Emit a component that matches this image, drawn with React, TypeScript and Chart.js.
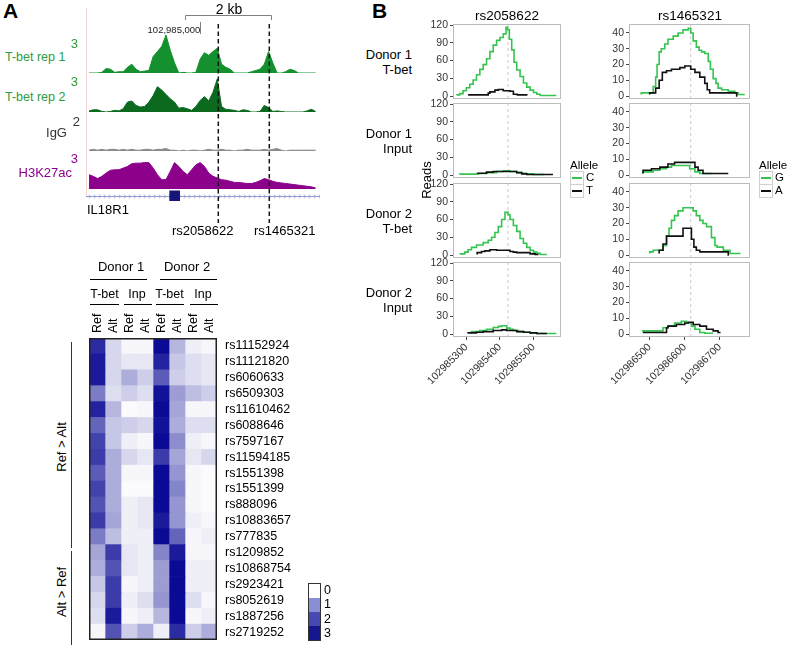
import React, { useEffect, useRef } from "react";
import { Chart, registerables } from "chart.js";
Chart.register(...registerables);

const FONT = "'Liberation Sans', Arial, Helvetica, sans-serif";
Chart.defaults.font.family = FONT;

// ---------------- Panel A : genome browser ----------------
const TRACK_POS = [
  102982400, 102982500, 102982600, 102982700, 102982800, 102982900, 102983000, 102983100, 102983200, 102983300,
  102983400, 102983500, 102983600, 102983700, 102983800, 102983900, 102984000, 102984100, 102984200, 102984300,
  102984400, 102984500, 102984600, 102984700, 102984800, 102984900, 102985000, 102985100, 102985200, 102985300,
  102985400, 102985500, 102985600, 102985700, 102985800, 102985900, 102986000, 102986100, 102986200, 102986300,
  102986400, 102986500, 102986600, 102986700, 102986800, 102986900, 102987000, 102987100, 102987200, 102987300,
  102987400, 102987500, 102987600, 102987700,
];
const TBET_REP1 = [
  0, 0, 0, 0.05, 0.35, 0.3, 0.05, 0.1, 0.1, 0.45, 0.7, 0.3, 0.1, 0.15, 0.2, 1.3, 1.7, 2.1, 3.0, 1.8,
  0.8, 0, 0.05, 0, 0, 0.05, 1.1, 1.6, 1.4, 1.7, 1.95, 0.7, 0.45, 0.3, 0, 0, 0, 0, 0.1, 0.2,
  0.3, 0.7, 1.7, 0.8, 0, 0, 0.1, 0.3, 0.2, 0, 0, 0, 0, 0,
];
const TBET_REP2 = [
  0.1, 0.2, 0.2, 0.05, 0, 0.05, 0.15, 0.1, 0.3, 0.9, 1.0, 0.6, 0.45, 0.5, 0.9, 1.5, 2.3, 2.0, 1.6, 1.2,
  0.9, 0.35, 0.4, 0.3, 0.15, 0.5, 1.05, 1.4, 1.0, 1.8, 3.0, 0.5, 0.25, 0.2, 0.15, 0.05, 0.2, 0.15, 0, 0,
  0.05, 0.6, 0.4, 0.05, 0.1, 0.05, 0, 0, 0, 0, 0, 0.1, 0.25, 0.05,
];
const IGG = [
  0.05, 0.1, 0.05, 0.1, 0.05, 0.1, 0.1, 0.05, 0.1, 0.05, 0.1, 0.05, 0.05, 0.1, 0.1, 0.05, 0.1, 0.1, 0.15, 0.05,
  0.05, 0, 0.05, 0, 0.05, 0.05, 0, 0.05, 0.1, 0.05, 0.05, 0.1, 0.05, 0.05, 0, 0.05, 0.05, 0.1, 0.05, 0.05,
  0.05, 0.1, 0.05, 0.1, 0.15, 0.05, 0, 0.05, 0.05, 0.05, 0.05, 0.05, 0.05, 0.05,
];
const H3K27AC = [
  1.3, 1.15, 0.95, 1.15, 1.45, 1.7, 1.75, 1.75, 1.9, 2.05, 2.3, 2.35, 2.35, 2.4, 2.4, 1.9, 1.3, 0.85, 0.85, 1.6,
  2.4, 2.05, 1.6, 1.3, 1.75, 2.2, 2.4, 2.05, 1.45, 1.15, 1.0, 0.85, 0.8, 0.7, 0.6, 0.6, 0.55, 0.5, 0.5, 0.6,
  0.75, 0.95, 0.85, 0.7, 0.6, 0.55, 0.5, 0.45, 0.4, 0.35, 0.3, 0.25, 0.2, 0.1,
];
const TRACK_MAX = [3, 3, 2, 3];
const BROWSER_RANGE = [102982329, 102987803];
const SNP_POS = [102985424, 102986617];
const SNP_NAMES = ["rs2058622", "rs1465321"];
const SCALE_BAR = [102984651, 102986651];
const COORD_TICK = 102985000;
const IL18R1_EXON = [102984278, 102984528];

// ---------------- Panel A : heatmap ----------------
const HM_ROWS = [
  "rs11152924", "rs11121820", "rs6060633", "rs6509303", "rs11610462", "rs6088646", "rs7597167",
  "rs11594185", "rs1551398", "rs1551399", "rs888096", "rs10883657", "rs777835", "rs1209852",
  "rs10868754", "rs2923421", "rs8052619", "rs1887256", "rs2719252",
];
const D1_TBET_REF = [2.6, 2.8, 2.8, 1.6, 2.7, 1.9, 2.3, 2.4, 2.0, 2.3, 2.1, 2.4, 1.6, 1.1, 1.0, 0.7, 0.5, 0.4, 0.1];
const D1_TBET_ALT = [0.5, 0.5, 0.5, 0.4, 0.9, 0.7, 0.7, 1.0, 1.0, 1.0, 1.0, 1.1, 0.8, 2.4, 2.1, 2.4, 2.4, 2.8, 2.1];
const D1_INP_REF = [0.1, 0.3, 1.0, 0.6, 0.05, 0.6, 0.2, 0.5, 0.1, 0.05, 0.2, 0.2, 0.2, 0.3, 0.3, 0.1, 0.2, 0.1, 0.6];
const D1_INP_ALT = [0.1, 0.3, 0.6, 0.4, 0.1, 0.5, 0.1, 0.3, 0.1, 0.05, 0.3, 0.3, 0.2, 0.2, 0.2, 0.2, 0.4, 0.2, 1.0];
const D2_TBET_REF = [3.0, 2.7, 2.0, 2.9, 3.0, 2.9, 3.0, 2.4, 3.0, 3.0, 3.0, 2.8, 3.0, 1.5, 1.2, 1.2, 1.3, 0.9, 0.2];
const D2_TBET_ALT = [0.9, 0.7, 0.6, 1.2, 1.1, 1.0, 1.4, 1.1, 1.3, 1.5, 1.3, 1.3, 1.9, 2.8, 3.0, 3.0, 3.0, 3.0, 2.6];
const D2_INP_REF = [0.2, 0.4, 0.4, 0.8, 0.1, 0.4, 0.2, 0.3, 0.1, 0.1, 0.1, 0.2, 0.1, 0.1, 0.2, 0.2, 0.4, 0.1, 0.6];
const D2_INP_ALT = [0.1, 0.3, 0.3, 0.6, 0.1, 0.4, 0.1, 0.5, 0.05, 0.05, 0.05, 0.1, 0.2, 0.1, 0.2, 0.2, 0.1, 0.2, 1.0];
const HM_COL_LABELS = ["Ref", "Alt", "Ref", "Alt", "Ref", "Alt", "Ref", "Alt"];
const HM_LEGEND_LABELS = ["0", "1", "2", "3"];

// ---------------- Panel B : allele-specific reads ----------------
const RS2058622_X = [102985260, 102985582];
const RS2058622_TICKS = [102985300, 102985400, 102985500];
const RS1465321_X = [102986441, 102986786];
const RS1465321_TICKS = [102986500, 102986600, 102986700];
const RS2058622_Y = [-5, 121.7];
const RS2058622_YTICKS = [0, 30, 60, 90, 120];
const RS1465321_Y = [-1.9, 45.7];
const RS1465321_YTICKS = [0, 10, 20, 30, 40];

const RS2058622_D1_TBET_C = [[102985272,1],[102985280,2],[102985290,4],[102985300,9],[102985310,14],[102985320,20],[102985330,27],[102985340,36],[102985350,45],[102985360,53],[102985370,63],[102985380,75],[102985390,86],[102985400,94],[102985410,99],[102985418,105],[102985423,116],[102985428,112],[102985435,96],[102985442,78],[102985450,57],[102985460,44],[102985470,33],[102985480,22],[102985490,15],[102985500,10],[102985510,6],[102985520,3],[102985530,1],[102985568,1]];
const RS2058622_D1_TBET_T = [[102985305,2],[102985365,2],[102985370,5],[102985385,7],[102985395,10],[102985410,11],[102985430,9],[102985440,8],[102985452,3],[102985482,2]];
const RS2058622_D1_INPUT_C = [[102985280,1],[102985330,1.5],[102985360,2.5],[102985390,4],[102985410,6],[102985430,7],[102985450,6],[102985465,4],[102985480,3],[102985500,2],[102985520,1],[102985530,1]];
const RS2058622_D1_INPUT_T = [[102985335,1],[102985360,3],[102985380,5],[102985410,6],[102985450,6],[102985465,4],[102985480,2],[102985500,1],[102985558,1]];
const RS2058622_D2_TBET_C = [[102985282,1],[102985295,2],[102985305,5],[102985315,9],[102985330,13],[102985350,17],[102985365,21],[102985375,25],[102985385,30],[102985395,38],[102985405,48],[102985415,60],[102985424,72],[102985430,68],[102985440,60],[102985450,50],[102985460,40],[102985470,28],[102985480,20],[102985490,13],[102985500,8],[102985510,5],[102985520,3],[102985530,1],[102985540,1]];
const RS2058622_D2_TBET_T = [[102985332,1],[102985345,4],[102985355,6],[102985370,7],[102985390,9],[102985430,8],[102985440,6],[102985450,5],[102985490,4],[102985505,2],[102985515,1]];
const RS2058622_D2_INPUT_C = [[102985315,3],[102985340,4],[102985360,6],[102985380,8],[102985395,11],[102985405,13],[102985420,14],[102985430,10],[102985440,8],[102985455,6],[102985470,4],[102985490,3],[102985510,2],[102985530,1],[102985568,1]];
const RS2058622_D2_INPUT_T = [[102985305,1],[102985330,2],[102985350,3],[102985380,4],[102985405,6],[102985420,7],[102985450,6],[102985470,4],[102985490,3],[102985510,2],[102985540,1]];

const RS1465321_D1_TBET_G = [[102986476,1],[102986510,2],[102986517,6],[102986521,12],[102986527,20],[102986533,28],[102986543,30],[102986552,33],[102986567,36],[102986581,38],[102986595,40],[102986610,42],[102986617,43],[102986624,40],[102986633,35],[102986641,31],[102986648,29],[102986657,28],[102986667,27],[102986673,22],[102986681,17],[102986689,11],[102986695,8],[102986705,5],[102986724,4],[102986743,3],[102986752,2],[102986771,1]];
const RS1465321_D1_TBET_A = [[102986500,1],[102986517,2],[102986527,5],[102986536,10],[102986548,15],[102986562,16],[102986586,17],[102986600,18],[102986617,19],[102986629,17],[102986643,15],[102986657,12],[102986664,8],[102986671,4],[102986686,2],[102986748,2],[102986750,0]];
const RS1465321_D1_INPUT_G = [[102986481,1],[102986510,2],[102986529,3],[102986548,4],[102986562,5],[102986576,6],[102986614,6],[102986629,4],[102986643,2],[102986662,1],[102986676,1]];
const RS1465321_D1_INPUT_A = [[102986481,1],[102986505,3],[102986529,4],[102986552,5],[102986571,7],[102986586,8],[102986629,8],[102986638,5],[102986652,3],[102986667,1],[102986724,1]];
const RS1465321_D2_TBET_G = [[102986500,1],[102986510,2],[102986538,3],[102986548,6],[102986555,12],[102986562,17],[102986571,22],[102986581,25],[102986595,28],[102986610,30],[102986624,30],[102986633,28],[102986643,25],[102986652,22],[102986662,20],[102986676,18],[102986686,11],[102986692,6],[102986710,5],[102986729,3],[102986748,1],[102986759,1]];
const RS1465321_D2_TBET_A = [[102986527,1],[102986538,3],[102986548,7],[102986557,12],[102986595,12],[102986600,17],[102986619,17],[102986626,10],[102986633,5],[102986643,3],[102986657,2],[102986724,2],[102986726,0]];
const RS1465321_D2_INPUT_G = [[102986481,1],[102986538,2],[102986552,4],[102986571,5],[102986590,7],[102986605,8],[102986619,7],[102986629,5],[102986643,3],[102986657,1],[102986681,0.5]];
const RS1465321_D2_INPUT_A = [[102986481,1],[102986548,1],[102986552,4],[102986576,5],[102986600,6],[102986610,7],[102986624,7.5],[102986643,6],[102986662,5],[102986681,3],[102986695,2],[102986702,1]];

const ROW_LABELS = ["Donor 1\nT-bet", "Donor 1\nInput", "Donor 2\nT-bet", "Donor 2\nInput"];

// ---------------- styles ----------------
const GREEN_LINE = "#35c44f";
const HEAT_END = [10, 10, 148];
function heatColor(v: number) {
  const t = Math.max(0, Math.min(1, v / 3));
  const r = Math.round(255 + (HEAT_END[0] - 255) * t);
  const g = Math.round(255 + (HEAT_END[1] - 255) * t);
  const b = Math.round(255 + (HEAT_END[2] - 255) * t);
  return `rgb(${r},${g},${b})`;
}

function ChartCanvas({ left, top, width, height, config, z = 0 }: any) {
  const ref = useRef<HTMLCanvasElement>(null);
  useEffect(() => {
    const chart = new Chart(ref.current as HTMLCanvasElement, config);
    return () => chart.destroy();
  }, []);
  return (
    <canvas
      ref={ref}
      width={width}
      height={height}
      style={{ position: "absolute", left, top, width, height, zIndex: z, display: "block" }}
    />
  );
}

function Txt({ x, y, s = 13, c = "#000", w = 400, a = "middle", r = 0, lh = 1.15, children }: any) {
  const tx = a === "start" ? "0" : a === "end" ? "-100%" : "-50%";
  return (
    <div
      style={{
        position: "absolute",
        left: x,
        top: y,
        transform: `translate(${tx}, -50%)${r ? ` rotate(${r}deg)` : ""}`,
        fontSize: s,
        color: c,
        fontWeight: w,
        whiteSpace: "pre",
        lineHeight: lh,
        textAlign: a === "end" ? "right" : a === "start" ? "left" : "center",
        zIndex: 5,
      }}
    >
      {children}
    </div>
  );
}

function UpTxt({ x, y, s = 12.5, children }: any) {
  return (
    <div
      style={{
        position: "absolute",
        left: x,
        top: y,
        transformOrigin: "0 0",
        transform: "rotate(-90deg) translate(0, -50%)",
        fontSize: s,
        lineHeight: 1,
        whiteSpace: "pre",
        zIndex: 5,
      }}
    >
      {children}
    </div>
  );
}

function HLine({ x1, x2, y, c = "#000", w = 1 }: any) {
  return <div style={{ position: "absolute", left: x1, top: y, width: x2 - x1, height: w, background: c, zIndex: 5 }} />;
}
function VLine({ x, y1, y2, c = "#000", w = 1 }: any) {
  return <div style={{ position: "absolute", left: x, top: y1, width: w, height: y2 - y1, background: c, zIndex: 5 }} />;
}

const baseOpts = {
  responsive: false,
  animation: false,
  events: [],
  plugins: { legend: { display: false }, tooltip: { enabled: false } },
};

function trackConfig(values: number[], max: number, color: string) {
  return {
    type: "line",
    data: {
      datasets: [
        {
          data: TRACK_POS.map((x, i) => ({ x, y: values[i] })),
          borderColor: color,
          backgroundColor: color,
          borderWidth: 1,
          fill: "origin",
          pointRadius: 0,
          tension: 0,
        },
      ],
    },
    options: {
      ...baseOpts,
      layout: { padding: { bottom: 1 } },
      scales: {
        x: { type: "linear", min: BROWSER_RANGE[0], max: BROWSER_RANGE[1], display: false },
        y: { min: 0, max, display: false },
      },
    },
  };
}

const browserOverlay = {
  id: "browserOverlay",
  afterDraw(chart: any) {
    const ctx = chart.ctx;
    const xs = chart.scales.x;
    const px = (v: number) => xs.getPixelForValue(v);
    ctx.save();
    ctx.strokeStyle = "#f2d2d2";
    ctx.lineWidth = 1;
    ctx.beginPath();
    ctx.moveTo(0.5, 8);
    ctx.lineTo(0.5, 196);
    ctx.stroke();
    ctx.strokeStyle = "#808080";
    const a = Math.round(px(SCALE_BAR[0])) + 0.5;
    const b = Math.round(px(SCALE_BAR[1])) + 0.5;
    ctx.beginPath();
    ctx.moveTo(a, 20);
    ctx.lineTo(a, 15.5);
    ctx.lineTo(b, 15.5);
    ctx.lineTo(b, 20);
    ctx.stroke();
    const c = Math.round(px(COORD_TICK)) + 0.5;
    ctx.beginPath();
    ctx.moveTo(c, 22);
    ctx.lineTo(c, 34);
    ctx.stroke();
    ctx.strokeStyle = "#8f9bd0";
    ctx.beginPath();
    ctx.moveTo(0, 196.5);
    ctx.lineTo(chart.width, 196.5);
    ctx.stroke();
    ctx.lineWidth = 0.8;
    for (let x = 3; x < chart.width; x += 5) {
      ctx.beginPath();
      ctx.moveTo(x, 194.5);
      ctx.lineTo(x + 1.6, 196.5);
      ctx.lineTo(x, 198.5);
      ctx.stroke();
    }
    ctx.fillStyle = "#16167a";
    const e0 = px(IL18R1_EXON[0]);
    const e1 = px(IL18R1_EXON[1]);
    ctx.fillRect(e0, 190.5, e1 - e0, 10.5);
    ctx.setLineDash([4.5, 3]);
    ctx.strokeStyle = "#151515";
    ctx.lineWidth = 1.5;
    SNP_POS.forEach((p) => {
      const s = px(p);
      ctx.beginPath();
      ctx.moveTo(s, 24);
      ctx.lineTo(s, 223);
      ctx.stroke();
    });
    ctx.restore();
  },
};

const overlayConfig = {
  type: "scatter",
  data: { datasets: [] },
  options: {
    ...baseOpts,
    layout: { padding: 0 },
    scales: {
      x: { type: "linear", min: BROWSER_RANGE[0], max: BROWSER_RANGE[1], display: false },
      y: { min: 0, max: 1, display: false },
    },
  },
  plugins: [browserOverlay],
};

const HM_COLUMNS = [D1_TBET_REF, D1_TBET_ALT, D1_INP_REF, D1_INP_ALT, D2_TBET_REF, D2_TBET_ALT, D2_INP_REF, D2_INP_ALT];

const heatmapConfig = {
  type: "bar",
  data: {
    labels: HM_ROWS,
    datasets: HM_COLUMNS.map((col, j) => ({
      label: HM_COL_LABELS[j],
      data: col.map(() => [j, j + 1]),
      backgroundColor: col.map(heatColor),
      borderWidth: 0,
      barPercentage: 1,
      categoryPercentage: 1,
      grouped: false,
    })),
  },
  options: {
    ...baseOpts,
    indexAxis: "y",
    layout: { padding: 0 },
    scales: {
      x: { type: "linear", min: 0, max: 8, display: false },
      y: {
        position: "right",
        grid: { display: false, drawTicks: false },
        border: { display: false },
        ticks: { font: { size: 12.5, family: FONT }, color: "#000", padding: 8, autoSkip: false },
        afterFit: (s: any) => {
          s.width = 92;
          s.paddingTop = 0;
          s.paddingBottom = 0;
        },
      },
    },
  },
  plugins: [
    {
      id: "hmFrame",
      afterDatasetsDraw(chart: any) {
        const { ctx, chartArea: a } = chart;
        ctx.save();
        ctx.strokeStyle = "#222";
        ctx.lineWidth = 1.5;
        ctx.strokeRect(a.left + 0.75, a.top + 0.75, a.right - a.left - 1.5, a.bottom - a.top - 1.5);
        ctx.restore();
      },
    },
  ],
};

function readsConfig(p: any) {
  const frame = {
    id: "readsFrame",
    beforeDatasetsDraw(chart: any) {
      const { ctx, chartArea: a } = chart;
      const x = chart.scales.x.getPixelForValue(p.snp);
      ctx.save();
      ctx.strokeStyle = "#c8c8c8";
      ctx.lineWidth = 1;
      ctx.setLineDash([3, 3]);
      ctx.beginPath();
      ctx.moveTo(x, a.top);
      ctx.lineTo(x, a.bottom);
      ctx.stroke();
      ctx.restore();
    },
    afterDraw(chart: any) {
      const { ctx, chartArea: a } = chart;
      ctx.save();
      ctx.strokeStyle = "#bcbcbc";
      ctx.lineWidth = 1;
      ctx.strokeRect(Math.round(a.left) + 0.5, Math.round(a.top) + 0.5, Math.round(a.right - a.left) - 1, Math.round(a.bottom - a.top) - 1);
      ctx.restore();
    },
  };
  const line = (pts: number[][], color: string) => ({
    data: pts.map(([x, y]) => ({ x, y })),
    borderColor: color,
    borderWidth: 1.6,
    stepped: "after",
    pointRadius: 0,
    fill: false,
  });
  return {
    type: "line",
    data: { datasets: [line(p.alt, "#111"), line(p.ref, GREEN_LINE)] },
    options: {
      ...baseOpts,
      layout: { padding: { top: 7, right: 1, bottom: p.bottom ? 0 : 5 } },
      scales: {
        x: {
          type: "linear",
          min: p.xr[0],
          max: p.xr[1],
          display: p.bottom,
          afterBuildTicks: (s: any) => {
            s.ticks = p.xt.map((v: number) => ({ value: v }));
          },
          grid: { drawOnChartArea: false, drawTicks: true, tickLength: 3, color: "#444" },
          border: { display: false },
          ticks: {
            minRotation: 45,
            maxRotation: 45,
            font: { size: 10.5 },
            color: "#333",
            padding: 1,
            callback: (v: any) => String(v),
          },
          afterFit: (s: any) => {
            s.height = p.bottom ? 55 : 0;
            s.paddingLeft = 0;
            s.paddingRight = 0;
          },
        },
        y: {
          min: p.yr[0],
          max: p.yr[1],
          afterBuildTicks: (s: any) => {
            s.ticks = p.yt.map((v: number) => ({ value: v }));
          },
          grid: { drawOnChartArea: false, drawTicks: true, tickLength: 3, color: "#444" },
          border: { display: false },
          ticks: { font: { size: 10.5 }, color: "#333", padding: 2 },
          afterFit: (s: any) => {
            s.width = 30;
            s.paddingTop = 0;
            s.paddingBottom = 0;
          },
        },
      },
    },
    plugins: [frame],
  };
}

const PANEL_TOPS = [24, 103, 183, 262];
const PANEL_H = 75;
const LEFT_SERIES = [
  [RS2058622_D1_TBET_C, RS2058622_D1_TBET_T],
  [RS2058622_D1_INPUT_C, RS2058622_D1_INPUT_T],
  [RS2058622_D2_TBET_C, RS2058622_D2_TBET_T],
  [RS2058622_D2_INPUT_C, RS2058622_D2_INPUT_T],
];
const RIGHT_SERIES = [
  [RS1465321_D1_TBET_G, RS1465321_D1_TBET_A],
  [RS1465321_D1_INPUT_G, RS1465321_D1_INPUT_A],
  [RS1465321_D2_TBET_G, RS1465321_D2_TBET_A],
  [RS1465321_D2_INPUT_G, RS1465321_D2_INPUT_A],
];

function LegendKey({ x, y, color, label }: any) {
  return (
    <>
      <div
        style={{
          position: "absolute",
          left: x,
          top: y,
          width: 12,
          height: 12,
          border: "1px solid #d0d0d0",
          background: "#fff",
          zIndex: 5,
        }}
      >
        <div style={{ position: "absolute", left: 1, top: 5, width: 10, height: 2, background: color }} />
      </div>
      <Txt x={x + 16} y={y + 7} s={11.5} a="start">
        {label}
      </Txt>
    </>
  );
}

const LEGEND_SWATCHES = ["#ffffff", "#8a8ed3", "#4848b3", "#16168f"];

export default function App() {
  const trackColors = ["#14902f", "#0c6a1f", "#8a8a8a", "#8c008c"];
  const trackVals = [TBET_REP1, TBET_REP2, IGG, H3K27AC];
  const trackBoxes = [
    { top: 35, h: 39 },
    { top: 79, h: 34 },
    { top: 118, h: 34 },
    { top: 156, h: 34 },
  ];
  const colX = (i: number) => 89 + 16 * i + 8;

  return (
    <div
      style={{
        position: "absolute",
        left: 0,
        top: 0,
        width: 787,
        height: 645,
        background: "#fff",
        fontFamily: FONT,
        overflow: "hidden",
      }}
    >
      {trackBoxes.map((b, i) => (
        <ChartCanvas
          key={"trk" + i}
          left={86}
          top={b.top}
          width={234}
          height={b.h}
          config={trackConfig(trackVals[i], TRACK_MAX[i], trackColors[i])}
        />
      ))}
      <ChartCanvas left={86} top={0} width={234} height={250} config={overlayConfig} z={2} />

      <Txt x={3} y={11} s={21} w={700} a="start">A</Txt>
      <Txt x={229} y={9} s={14}>2 kb</Txt>
      <Txt x={174} y={29.5} s={9.5} c="#222">102,985,000</Txt>

      <Txt x={5} y={57} s={12.5} c="#2e9b3d" a="start">T-bet rep 1</Txt>
      <Txt x={78} y={44} s={13} c="#2e9b3d" a="end">3</Txt>
      <Txt x={5} y={97} s={12.5} c="#2e9b3d" a="start">T-bet rep 2</Txt>
      <Txt x={78} y={82} s={13} c="#2e9b3d" a="end">3</Txt>
      <Txt x={67} y={133} s={13} c="#333" a="end">IgG</Txt>
      <Txt x={80} y={122} s={13} c="#333" a="end">2</Txt>
      <Txt x={72} y={173} s={13} c="#8c008c" a="end">H3K27ac</Txt>
      <Txt x={78} y={159} s={13} c="#8c008c" a="end">3</Txt>
      <Txt x={87} y={210} s={13} a="start">IL18R1</Txt>
      <Txt x={172} y={231} s={13} a="start">{SNP_NAMES[0]}</Txt>
      <Txt x={254} y={231} s={13} a="start">{SNP_NAMES[1]}</Txt>

      <Txt x={121} y={267} s={13}>Donor 1</Txt>
      <Txt x={187} y={267} s={13}>Donor 2</Txt>
      <HLine x1={90} x2={147} y={279} />
      <HLine x1={160} x2={217} y={279} />
      <Txt x={104.5} y={294} s={12.5}>T-bet</Txt>
      <Txt x={137} y={294} s={12.5}>Inp</Txt>
      <Txt x={169.5} y={294} s={12.5}>T-bet</Txt>
      <Txt x={203} y={294} s={12.5}>Inp</Txt>
      <HLine x1={90} x2={119} y={304} />
      <HLine x1={124} x2={152} y={304} />
      <HLine x1={156} x2={184} y={304} />
      <HLine x1={190} x2={218} y={304} />
      {HM_COL_LABELS.map((l, i) => (
        <UpTxt key={"cl" + i} x={colX(i)} y={333}>
          {l}
        </UpTxt>
      ))}
      <ChartCanvas left={89} top={338} width={220} height={302} config={heatmapConfig} />
      <VLine x={71} y1={342} y2={548} c="#333" />
      <VLine x={71} y1={551} y2={645} c="#333" />
      <Txt x={62} y={447} s={13} r={-90}>Ref &gt; Alt</Txt>
      <Txt x={62} y={592} s={13} r={-90}>Alt &gt; Ref</Txt>

      <div
        style={{
          position: "absolute",
          left: 308,
          top: 583,
          width: 11,
          height: 56,
          border: "1px solid #333",
          display: "flex",
          flexDirection: "column",
          zIndex: 5,
        }}
      >
        {LEGEND_SWATCHES.map((c, i) => (
          <div key={"sw" + i} style={{ flex: 1, background: c }} />
        ))}
      </div>
      {HM_LEGEND_LABELS.map((l, i) => (
        <Txt key={"ll" + i} x={324} y={590 + i * 14.3} s={12.5} a="start">
          {l}
        </Txt>
      ))}

      <Txt x={372} y={11} s={21} w={700} a="start">B</Txt>
      <Txt x={507} y={16} s={13.5}>{SNP_NAMES[0]}</Txt>
      <Txt x={690} y={16} s={13.5}>{SNP_NAMES[1]}</Txt>
      {ROW_LABELS.map((l, i) => (
        <Txt key={"rl" + i} x={412} y={PANEL_TOPS[i] + 38} s={13} a="end" lh="15px">
          {l}
        </Txt>
      ))}
      <Txt x={427} y={180} s={13} r={-90}>Reads</Txt>

      {PANEL_TOPS.map((t, i) => {
        const bottom = i === 3;
        const h = 7 + PANEL_H + (bottom ? 55 : 5);
        return (
          <React.Fragment key={"bp" + i}>
            <ChartCanvas
              left={423}
              top={t - 7}
              width={139}
              height={h}
              config={readsConfig({
                ref: LEFT_SERIES[i][0],
                alt: LEFT_SERIES[i][1],
                xr: RS2058622_X,
                xt: RS2058622_TICKS,
                yr: RS2058622_Y,
                yt: RS2058622_YTICKS,
                snp: SNP_POS[0],
                bottom,
              })}
            />
            <ChartCanvas
              left={599}
              top={t - 7}
              width={152}
              height={h}
              config={readsConfig({
                ref: RIGHT_SERIES[i][0],
                alt: RIGHT_SERIES[i][1],
                xr: RS1465321_X,
                xt: RS1465321_TICKS,
                yr: RS1465321_Y,
                yt: RS1465321_YTICKS,
                snp: SNP_POS[1],
                bottom,
              })}
            />
          </React.Fragment>
        );
      })}

      <Txt x={570} y={166} s={11.5} a="start">Allele</Txt>
      <LegendKey x={570} y={171} color={GREEN_LINE} label="C" />
      <LegendKey x={570} y={184} color="#111" label="T" />
      <Txt x={759} y={166} s={11.5} a="start">Allele</Txt>
      <LegendKey x={759} y={171} color={GREEN_LINE} label="G" />
      <LegendKey x={759} y={184} color="#111" label="A" />
    </div>
  );
}
